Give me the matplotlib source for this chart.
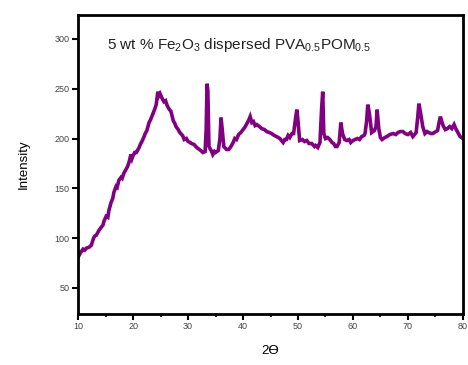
import numpy as np
import matplotlib
matplotlib.use("Agg")
import matplotlib.pyplot as plt
from matplotlib.ticker import MultipleLocator

plt.rcParams['font.family'] = ['Liberation Sans', 'DejaVu Sans']
plt.rcParams['mathtext.default'] = 'regular'

# 2theta / intensity
two_theta = [10.0, 10.3, 10.5, 10.9, 11.2, 11.5, 12.0, 12.4, 12.8, 13.0, 13.3, 13.6,
             13.8, 14.2, 14.5, 14.7, 15.1, 15.4, 15.6, 16.0, 16.3, 16.5, 16.9, 17.1,
             17.4, 17.8, 18.0, 18.3, 18.7, 19.0, 19.3, 19.6, 19.8, 20.0, 20.3, 20.6,
             21.1, 21.3, 21.6, 22.0, 22.2, 22.5, 22.9, 23.1, 23.4, 23.9, 24.2, 24.5,
             24.7, 24.9, 25.3, 25.6, 25.9, 26.2, 26.5, 26.9, 27.3, 27.6, 27.8, 28.2,
             28.5, 29.0, 29.3, 29.7, 30.0, 30.4, 30.6, 31.1, 31.4, 31.8, 32.3, 32.7,
             33.1, 33.3, 33.45, 33.6, 33.8, 34.2, 34.5, 34.8, 35.0, 35.5, 35.8, 36.0,
             36.2, 36.5, 37.0, 37.4, 37.8, 38.2, 38.5, 38.8, 39.2, 39.6, 40.0, 40.3,
             40.6, 41.0, 41.3, 41.6, 41.9, 42.2, 42.5, 43.0, 43.4, 43.9, 44.3, 44.8,
             45.2, 45.7, 46.1, 46.4, 46.7, 47.0, 47.3, 47.6, 47.9, 48.2, 48.5, 48.9,
             49.2, 49.6, 49.8, 50.0, 50.3, 50.8, 51.2, 51.6, 52.0, 52.5, 53.0, 53.2,
             53.6, 54.0, 54.3, 54.5, 54.7, 55.0, 55.4, 55.8, 56.2, 56.5, 56.8, 57.1,
             57.5, 57.8, 58.1, 58.5, 58.9, 59.3, 59.6, 60.0, 60.4, 60.8, 61.2, 61.6,
             62.0, 62.2, 62.5, 62.7, 63.0, 63.4, 63.9, 64.2, 64.4, 64.7, 65.0, 65.3,
             65.8, 66.2, 66.7, 67.3, 67.8, 68.2, 68.6, 69.1, 69.5, 70.0, 70.5, 70.9,
             71.5, 71.8, 72.0, 72.3, 72.7, 73.1, 73.5, 73.8, 74.2, 74.5, 75.1, 75.4,
             75.6, 75.9, 76.4, 76.8, 77.2, 77.6, 78.0, 78.4, 78.7, 79.1, 79.5, 80.0]
intensity = [81, 84, 86, 89, 88, 90, 91, 93, 100, 102, 103, 106,
             108, 111, 113, 117, 122, 121, 128, 136, 140, 146, 152, 151,
             158, 161, 160, 165, 169, 172, 177, 184, 180, 183, 186, 186,
             191, 194, 197, 202, 205, 208, 216, 218, 222, 229, 234, 247,
             243, 245, 240, 237, 238, 233, 230, 227, 218, 215, 212, 209,
             206, 203, 199, 200, 197, 196, 195, 194, 192, 190, 188, 186,
             187, 210, 255, 248, 192, 188, 184, 187, 186, 188, 200, 221,
             210, 192, 189, 189, 192, 196, 200, 199, 204, 206, 209, 211,
             214, 218, 222, 216, 217, 213, 214, 212, 210, 209, 207, 206,
             205, 203, 202, 201, 200, 198, 196, 199, 199, 203, 201, 205,
             205, 222, 229, 218, 198, 199, 197, 198, 195, 195, 192, 193,
             191, 196, 230, 247, 205, 200, 201, 199, 196, 195, 192, 192,
             196, 216, 205, 199, 198, 199, 196, 198, 199, 200, 199, 202,
             203, 205, 218, 234, 225, 206, 208, 212, 229, 210, 201, 199,
             201, 202, 204, 205, 204, 206, 207, 207, 205, 204, 206, 202,
             206, 222, 235, 226, 212, 205, 207, 206, 205, 205, 207, 208,
             214, 222, 213, 209, 210, 212, 210, 214, 210, 206, 202, 200]

fig = plt.figure(figsize=(4.68, 3.65), dpi=100)
ax = fig.add_axes([0.167, 0.14, 0.822, 0.819])

ax.plot(two_theta, intensity, color='#800080', lw=2.6, solid_joinstyle='miter')

ax.set_xlim(10, 80)
ax.set_ylim(24, 324)
ax.xaxis.set_major_locator(MultipleLocator(10))
ax.xaxis.set_minor_locator(MultipleLocator(5))
ax.yaxis.set_major_locator(MultipleLocator(50))
ax.yaxis.set_minor_locator(MultipleLocator(25))
ax.tick_params(which='major', direction='out', length=4, width=1.5,
               labelsize=6.5, labelcolor='#444444', pad=2)
ax.tick_params(which='minor', direction='out', length=2, width=1.2)
ax.tick_params(axis='y', which='minor', length=0)
for s in ax.spines.values():
    s.set_linewidth(2)

ax.set_xlabel('2ϴ', fontsize=9.5, labelpad=10)
ax.set_ylabel('Intensity', fontsize=9.5, labelpad=18)

ax.text(0.075, 0.9, '5 wt % Fe$_2$O$_3$ dispersed PVA$_{0.5}$POM$_{0.5}$',
        transform=ax.transAxes, fontsize=11, color='#222222', va='center')

fig.savefig('out.png', dpi=100)
